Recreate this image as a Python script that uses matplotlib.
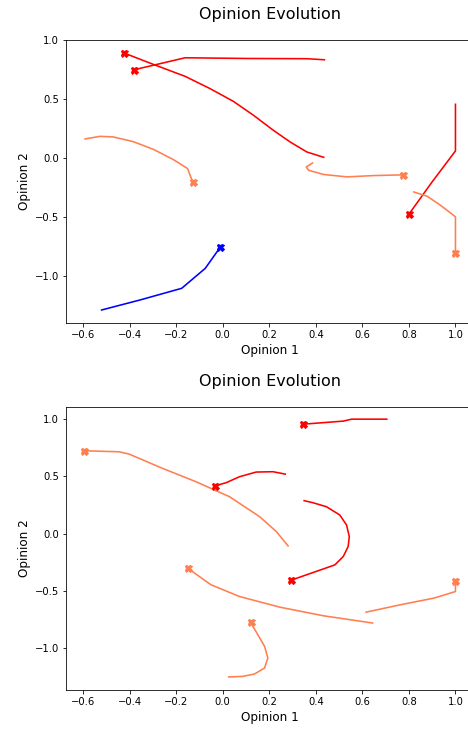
import matplotlib
matplotlib.use("Agg")
import matplotlib.pyplot as plt

# top panel trajectories (first point = marker)
top_paths = [
    ([-0.422, -0.298, -0.161, -0.054, 0.046, 0.133, 0.218, 0.29, 0.362, 0.434],
     [0.892, 0.797, 0.695, 0.591, 0.483, 0.364, 0.237, 0.138, 0.053, 0.008], 'red'),
    ([-0.381, -0.161, 0.104, 0.362, 0.437], [0.751, 0.853, 0.847, 0.845, 0.836], 'red'),
    ([-0.128, -0.14, -0.151, -0.212, -0.298, -0.384, -0.47, -0.527, -0.591],
     [-0.203, -0.144, -0.087, -0.011, 0.076, 0.141, 0.181, 0.186, 0.164], 'coral'),
    ([0.773, 0.649, 0.534, 0.434, 0.369, 0.359, 0.386],
     [-0.141, -0.147, -0.158, -0.138, -0.102, -0.074, -0.04], 'coral'),
    ([0.80, 0.90, 1.0, 1.0], [-0.475, -0.2, 0.062, 0.458], 'red'),
    ([1.0, 1.0, 0.935, 0.878, 0.821], [-0.805, -0.497, -0.398, -0.322, -0.286], 'coral'),
    ([-0.011, -0.075, -0.176, -0.355, -0.52], [-0.757, -0.935, -1.104, -1.203, -1.288], 'blue'),
]

# bottom panel trajectories
bottom_paths = [
    ([0.345, 0.518, 0.554, 0.705], [0.956, 0.983, 1.0, 1.0], 'red'),
    ([-0.596, -0.445, -0.402, -0.258, -0.114, 0.029, 0.159, 0.231, 0.281],
     [0.724, 0.715, 0.695, 0.57, 0.453, 0.323, 0.148, 0.017, -0.107], 'coral'),
    ([-0.035, 0.015, 0.072, 0.144, 0.216, 0.269], [0.416, 0.445, 0.497, 0.538, 0.541, 0.52], 'red'),
    ([0.295, 0.388, 0.482, 0.518, 0.539, 0.544, 0.532, 0.503, 0.446, 0.388, 0.35],
     [-0.406, -0.34, -0.273, -0.2, -0.113, -0.026, 0.076, 0.163, 0.235, 0.27, 0.288], 'red'),
    ([-0.15, -0.1, -0.05, 0.072, 0.245, 0.431, 0.644],
     [-0.302, -0.375, -0.447, -0.549, -0.642, -0.717, -0.781], 'coral'),
    ([1.0, 1.0, 0.906, 0.762, 0.616], [-0.41, -0.506, -0.564, -0.622, -0.686], 'coral'),
    ([0.12, 0.151, 0.18, 0.194, 0.18, 0.137, 0.087, 0.026],
     [-0.776, -0.883, -0.985, -1.086, -1.174, -1.226, -1.247, -1.252], 'coral'),
]

fig = plt.figure(figsize=(6.5, 10.125), dpi=72)
ax1 = fig.add_axes([0.141, 0.557, 0.872, 0.388])
ax2 = fig.add_axes([0.141, 0.0535, 0.872, 0.388])


def draw(ax, paths, ylim):
    for xs, ys, c in paths:
        ax.plot(xs, ys, color=c, lw=1.6)
        ax.plot(xs[0], ys[0], marker='X', color=c, ms=7)
    ax.set_xlim(-0.673, 1.08)
    ax.set_ylim(*ylim)
    ax.set_xticks([-0.6, -0.4, -0.2, 0.0, 0.2, 0.4, 0.6, 0.8, 1.0])
    ax.set_yticks([-1.0, -0.5, 0.0, 0.5, 1.0])
    ax.set_title('Opinion Evolution', fontsize=16, pad=21)
    ax.set_xlabel('Opinion 1', fontsize=12)
    ax.set_ylabel('Opinion 2', fontsize=12)


draw(ax1, top_paths, (-1.398, 1.003))
draw(ax2, bottom_paths, (-1.366, 1.105))

plt.savefig('out.png', dpi=72)
